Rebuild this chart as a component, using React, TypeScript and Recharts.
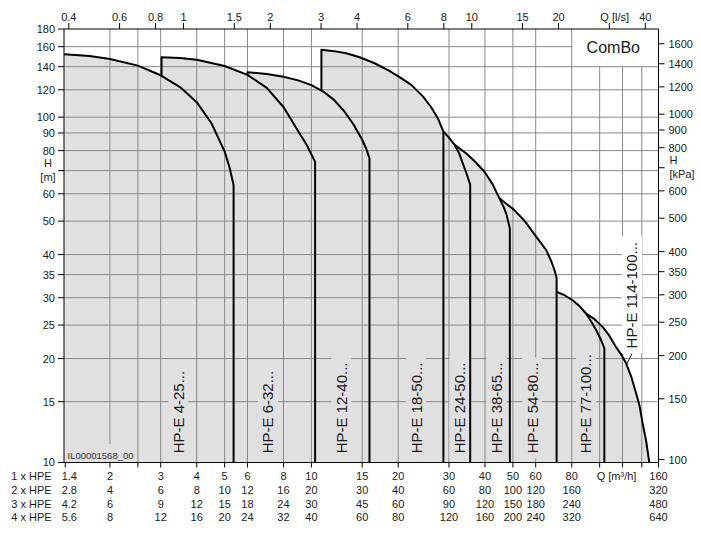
import React from 'react';
import { ComposedChart, Area, Line, XAxis, YAxis, ReferenceLine, ReferenceDot } from 'recharts';

const FONT = '"Liberation Sans", Arial, Helvetica, sans-serif';
const W = 701;
const HGT = 534;

const Q_MIN = 1.3856;
const Q_MAX = 160;
const H_MIN = 10;
const H_MAX = 180;
const KPA_PER_M = 9.80665;
const LS_TO_M3H = 3.6;

// ---- tick values ----
const topTicksLs = [0.4, 0.6, 0.8, 1, 1.5, 2, 3, 4, 6, 8, 10, 15, 20, 30, 40];
const topTitleLs = 30;
const bottomTicksQ = [1.4, 2, 2.5, 3, 4, 5, 6, 8, 10, 15, 20, 30, 40, 50, 60, 80, 100, 120, 140, 160];
const bottomUnlabeledQ = [2.5, 120, 140];
const bottomTitleQ = 100;
const hpeMultipliers = [1, 2, 3, 4];
const hpeRowNames = ['1 x HPE', '2 x HPE', '3 x HPE', '4 x HPE'];
const leftTicksM = [10, 15, 20, 25, 30, 35, 40, 50, 60, 70, 80, 90, 100, 120, 140, 160, 180];
const leftTitleM = 70;
const rightTicksKpa = [100, 150, 200, 250, 300, 350, 400, 500, 600, 700, 800, 900, 1000, 1200, 1400, 1600];
const rightTitleKpa = 700;

// ---- grid ----
const gridQ = [2, 2.5, 3, 4, 5, 6, 8, 10, 15, 20, 30, 40, 50, 60, 80];
const gridQShort = [100, 120, 140];
const gridH = [15, 20, 25, 30, 35, 40, 50, 60, 70, 80, 90, 100, 120, 140];
const gridHShort = [160];
const COMBO_Q = 80;
const COMBO_H = 140;

// ---- pump curves: [Q m³/h (1 x HPE), H m] ----
const hpe4_25 = [[1.386, 152.1], [1.7, 150.3], [2, 147.4], [2.5, 141.0], [3, 132.2], [3.5, 122.2], [4, 110.5], [4.5, 96.0], [5, 79.5], [5.2, 71.5], [5.37, 63.6]];
const hpe6_32 = [[3.02, 132.0], [3.02, 149.1], [3.5, 148.3], [4, 146.6], [5, 140.6], [6, 132.6], [7, 121.5], [8, 107.0], [9, 91.0], [9.6, 83.5], [10.0, 78.0], [10.3, 74.2]];
const hpe12_40 = [[6, 132.6], [6, 134.9], [7, 133.4], [8, 131.0], [9, 127.8], [10, 123.8], [11, 118.6], [12, 112.0], [13, 104.0], [14, 95.2], [15, 86.0], [15.5, 81.0], [15.9, 76.0]];
const hpe18_50 = [[10.83, 119.4], [10.83, 156.8], [12, 155.3], [13.2, 153.1], [14.7, 149.1], [16.5, 143.5], [18.5, 136.6], [20.1, 131.0], [22.2, 124.0], [24.4, 114.7], [26, 107.0], [27.45, 99.3], [28.7, 90.8]];
const hpe24_50 = [[28.7, 90.8], [30, 87.3], [31.4, 83.1], [32.5, 78.8], [33.5, 73.5], [34.5, 68.8], [35.55, 63.8]];
const hpe38_65 = [[31.4, 83.1], [34.4, 78.6], [37, 74.3], [39.85, 69.5], [42.5, 64.0], [44.9, 58.2], [46.5, 54.8], [47.5, 52.3], [48.8, 47.6]];
const hpe54_80 = [[44.9, 58.2], [50.6, 53.8], [55, 50.0], [60.2, 45.1], [65.2, 41.3], [68, 38.2], [69.7, 36.1], [70.9, 34.2]];
const hpe77_100 = [[70.9, 31.2], [75, 30.6], [80.6, 29.5], [85, 28.4], [89.7, 27.0], [94, 25.4], [97.2, 24.2], [100.5, 22.9], [103.8, 21.4]];
const hpe114_100 = [[89.7, 27.0], [96, 26.0], [102.4, 24.7], [108, 23.3], [113.9, 21.6], [118.5, 20.6], [123.4, 19.4], [128.5, 17.8], [133.7, 15.9], [137.5, 14.6], [140.9, 13.0], [144.8, 11.6], [148.7, 10.0]];

const curves = [hpe4_25, hpe6_32, hpe12_40, hpe18_50, hpe24_50, hpe38_65, hpe54_80, hpe77_100, hpe114_100];

// which part of each curve forms the upper envelope (Q from, Q to)
const envelopeParts: [number[][], number, number][] = [
  [hpe4_25, 0, 3.0],
  [hpe6_32, 3.02, 6],
  [hpe12_40, 6, 10.5],
  [hpe18_50, 10.83, 28.7],
  [hpe24_50, 28.7, 31.4],
  [hpe38_65, 31.4, 44.9],
  [hpe54_80, 44.9, 70.9],
  [hpe77_100, 70.9, 89.7],
  [hpe114_100, 89.7, 1000],
];

const envelope = envelopeParts.flatMap(([c, a, b]) =>
  c.filter(([q]) => q >= a && q <= b).map(([q, h]) => ({ q, h }))
);

const curveData = curves.map((c) => {
  const pts = c.map(([q, h]) => ({ q, h }));
  const last = c[c.length - 1];
  return [...pts, { q: last[0], h: H_MIN }];
});

// ---- labels ----
const curveNames = ['HP-E 4-25...', 'HP-E 6-32...', 'HP-E 12-40...', 'HP-E 18-50...', 'HP-E 24-50...', 'HP-E 38-65...', 'HP-E 54-80...', 'HP-E 77-100...', 'HP-E 114-100...'];
const curveLabelQ = [3.45, 7.07, 12.7, 23.1, 32.6, 43.8, 58.3, 89.7, 129.5];
const curveLabelH = [10.63, 10.63, 10.63, 10.63, 10.63, 10.63, 10.63, 10.63, 21.4];
const leaderFrom = { x: 129.5, y: 20.7 };
const leaderTo = { x: 124, y: 19.2 };

const FILL = '#e0e0e0';
const GRID = '#888888';
const TXT = '#1a1a1a';
const FS = 11;

const CW: Record<string, number> = { H: 0.722, P: 0.667, '-': 0.333, E: 0.667, ' ': 0.278, '.': 0.278 };
const textWidth = (s: string, fs: number) => [...s].reduce((a, c) => a + (CW[c] ?? 0.556), 0) * fs;

const fmt = (v: number) => String(Math.round(v * 100) / 100);

const txtProps = { fontFamily: FONT, fontSize: FS, fill: TXT };

function BottomTick(props: any) {
  const { x, y, payload } = props;
  const v = payload.value;
  if (bottomUnlabeledQ.includes(v)) return <g />;
  const base = y + 10.5;
  const step = 13.75;
  if (v === bottomTitleQ) {
    return (
      <text x={x - 3} y={base} textAnchor="start" {...txtProps}>
        Q [m³/h]
      </text>
    );
  }
  const first = v === bottomTicksQ[0];
  return (
    <g>
      {hpeMultipliers.map((m, i) => (
        <text key={i} x={first ? x - 3.6 : x} y={base + i * step} textAnchor={first ? 'start' : 'middle'} {...txtProps}>
          {fmt(v * m)}
        </text>
      ))}
      {first &&
        hpeRowNames.map((n, i) => (
          <text key={'n' + i} x={x - 13.6} y={base + i * step} textAnchor="end" {...txtProps}>
            {n}
          </text>
        ))}
    </g>
  );
}

function TopTick(props: any) {
  const { x, y, payload } = props;
  const ls = Math.round((payload.value / LS_TO_M3H) * 100) / 100;
  if (ls === topTitleLs) {
    return (
      <text x={x - 9} y={y - 0.5} textAnchor="start" {...txtProps}>
        Q [l/s]
      </text>
    );
  }
  return (
    <text x={x} y={y - 0.5} textAnchor="middle" {...txtProps}>
      {fmt(ls)}
    </text>
  );
}

function LeftTick(props: any) {
  const { x, y, payload } = props;
  const v = payload.value;
  if (v === leftTitleM) {
    return (
      <g>
        <text x={x - 7} y={y - 4} textAnchor="middle" {...txtProps}>H</text>
        <text x={x - 7} y={y + 10} textAnchor="middle" {...txtProps}>[m]</text>
      </g>
    );
  }
  return (
    <text x={x} y={y} dy="0.36em" textAnchor="end" {...txtProps}>
      {v}
    </text>
  );
}

function RightTick(props: any) {
  const { x, y, payload } = props;
  const v = Math.round(payload.value);
  if (v === rightTitleKpa) {
    return (
      <g>
        <text x={x + 1} y={y - 4} textAnchor="start" {...txtProps}>H</text>
        <text x={x + 1} y={y + 10} textAnchor="start" {...txtProps}>[kPa]</text>
      </g>
    );
  }
  return (
    <text x={x} y={y} dy="0.36em" textAnchor="start" {...txtProps}>
      {v}
    </text>
  );
}

function makeVLabel(text: string, bg: string) {
  return (p: any) => {
    const { cx, cy } = p;
    const fs = 15;
    const len = textWidth(text, fs);
    const pad = 5;
    const h = 20;
    return (
      <g transform={`rotate(-90 ${cx} ${cy})`}>
        <rect x={cx - pad} y={cy - h / 2} width={len + 2 * pad} height={h} fill={bg} />
        <text x={cx} y={cy} dy="0.36em" textAnchor="start" fontFamily={FONT} fontSize={fs} fill={TXT}>
          {text}
        </text>
      </g>
    );
  };
}

const ilShape = (p: any) => {
  const { cx, cy } = p;
  return (
    <g>
      <rect x={cx - 3} y={cy - 11} width={72} height={17.5} fill={FILL} />
      <text x={cx} y={cy} dy="0.36em" textAnchor="start" fontFamily={FONT} fontSize={9.5} fill="#333">
        IL00001568_00
      </text>
    </g>
  );
};

const comboShape = (p: any) => {
  const { cx, cy } = p;
  return (
    <text x={cx} y={cy} dy="0.36em" textAnchor="middle" fontFamily={FONT} fontSize={16} fill={TXT}>
      ComBo
    </text>
  );
};

export default function App() {
  const axisLine = { stroke: '#000', strokeWidth: 1 };
  const tickLine = { stroke: '#000', strokeWidth: 1 };
  const ax = { xAxisId: 'b', yAxisId: 'm' } as any;
  return (
    <div style={{ position: 'absolute', left: 0, top: 0, width: W, height: HGT, background: '#fff' }}>
      <ComposedChart width={W} height={HGT} margin={{ top: 0, right: 0, bottom: 0, left: 0 }}>
        <XAxis
          xAxisId="b"
          type="number"
          dataKey="q"
          scale="log"
          domain={[Q_MIN, Q_MAX]}
          allowDataOverflow
          ticks={bottomTicksQ}
          interval={0}
          orientation="bottom"
          height={71.5}
          tick={BottomTick}
          tickSize={5}
          tickMargin={2}
          axisLine={axisLine}
          tickLine={tickLine}
        />
        <XAxis
          xAxisId="t"
          type="number"
          dataKey="q"
          scale="log"
          domain={[Q_MIN, Q_MAX]}
          allowDataOverflow
          ticks={topTicksLs.map((v) => v * LS_TO_M3H)}
          interval={0}
          orientation="top"
          height={29}
          tick={TopTick}
          tickSize={6}
          tickMargin={2}
          axisLine={axisLine}
          tickLine={tickLine}
        />
        <YAxis
          yAxisId="m"
          type="number"
          dataKey="h"
          scale="log"
          domain={[H_MIN, H_MAX]}
          allowDataOverflow
          ticks={leftTicksM}
          interval={0}
          orientation="left"
          width={64}
          tick={LeftTick}
          tickSize={6}
          tickMargin={3}
          axisLine={axisLine}
          tickLine={tickLine}
        />
        <YAxis
          yAxisId="k"
          type="number"
          scale="log"
          domain={[H_MIN * KPA_PER_M, H_MAX * KPA_PER_M]}
          allowDataOverflow
          ticks={rightTicksKpa}
          interval={0}
          orientation="right"
          width={42.5}
          tick={RightTick}
          tickSize={6}
          tickMargin={4}
          axisLine={axisLine}
          tickLine={tickLine}
        />

        <Area
          {...ax}
          data={envelope}
          dataKey="h"
          type="linear"
          stroke="none"
          fill={FILL}
          fillOpacity={1}
          baseValue={H_MIN}
          isAnimationActive={false}
          zIndex={100}
        />

        {gridQ.map((q) => (
          <ReferenceLine key={'gq' + q} {...ax} x={q} stroke={GRID} strokeWidth={1} zIndex={150} />
        ))}
        {gridQShort.map((q) => (
          <ReferenceLine
            key={'gqs' + q}
            {...ax}
            segment={[{ x: q, y: H_MIN }, { x: q, y: COMBO_H }]}
            stroke={GRID}
            strokeWidth={1}
            zIndex={150}
          />
        ))}
        {gridH.map((h) => (
          <ReferenceLine key={'gh' + h} {...ax} y={h} stroke={GRID} strokeWidth={1} zIndex={150} />
        ))}
        {gridHShort.map((h) => (
          <ReferenceLine
            key={'ghs' + h}
            {...ax}
            segment={[{ x: Q_MIN, y: h }, { x: COMBO_Q, y: h }]}
            stroke={GRID}
            strokeWidth={1}
            zIndex={150}
          />
        ))}

        <ReferenceLine {...ax} segment={[leaderFrom, leaderTo]} stroke="#222" strokeWidth={1} zIndex={160} />

        {curveNames.map((n, i) => (
          <ReferenceDot
            key={'lbl' + i}
            {...ax}
            x={curveLabelQ[i]}
            y={curveLabelH[i]}
            r={0}
            shape={makeVLabel(n, i === curveNames.length - 1 ? '#ffffff' : FILL)}
            zIndex={170}
          />
        ))}
        <ReferenceDot {...ax} x={1.425} y={10.5} r={0} shape={ilShape} zIndex={170} />
        <ReferenceDot {...ax} x={111.5} y={159} r={0} shape={comboShape} zIndex={170} />

        {curveData.map((d, i) => (
          <Line
            key={'c' + i}
            {...ax}
            data={d}
            dataKey="h"
            type="linear"
            stroke="#000"
            strokeWidth={2}
            strokeLinejoin="round"
            dot={false}
            activeDot={false}
            isAnimationActive={false}
            zIndex={400}
          />
        ))}
      </ComposedChart>
    </div>
  );
}
